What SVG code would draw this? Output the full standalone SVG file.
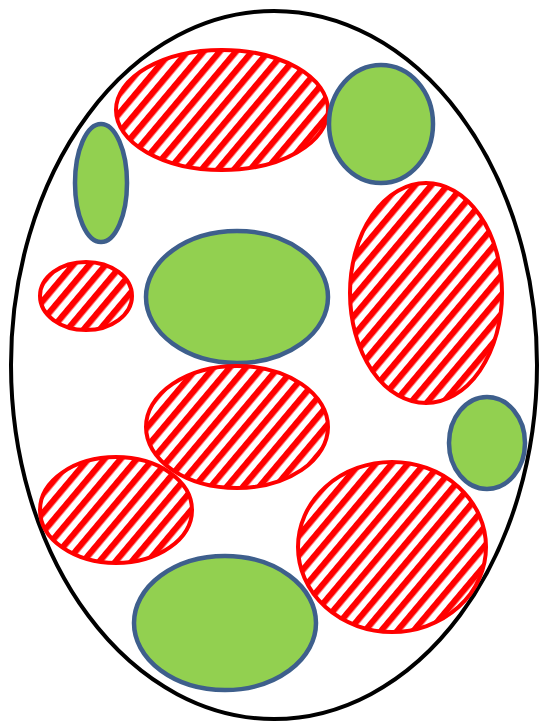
<svg xmlns="http://www.w3.org/2000/svg" width="540" height="722" viewBox="0 0 540 722">
<defs>
<pattern id="hatch" patternUnits="userSpaceOnUse" x="0" y="0" width="12.4" height="12" patternTransform="rotate(40)">
<rect x="0" y="0" width="12.4" height="12" fill="#ffffff"/>
<rect x="0" y="0" width="6.2" height="12" fill="#ff0000"/>
</pattern>
</defs>
<style>
.outer{fill:#ffffff;stroke:#000000;stroke-width:4}
.red{fill:url(#hatch);stroke:#ff0000;stroke-width:4}
.green{fill:#92d050;stroke:#3e5f8c;stroke-width:4.5}
</style>
<rect width="540" height="722" fill="#ffffff"/>
<g id="outer"><ellipse class="outer" cx="274" cy="365" rx="263" ry="354"/></g>
<g id="r1"><ellipse class="red" cx="222" cy="110" rx="106" ry="60"/></g>
<g id="g1"><ellipse class="green" cx="381" cy="124" rx="52" ry="59"/></g>
<g id="g2"><ellipse class="green" cx="101" cy="183" rx="26" ry="59"/></g>
<g id="r2"><ellipse class="red" cx="426" cy="293" rx="76" ry="110"/></g>
<g id="r3"><ellipse class="red" cx="86" cy="296" rx="46" ry="34"/></g>
<g id="g3"><ellipse class="green" cx="237" cy="297" rx="91" ry="66"/></g>
<g id="r4"><ellipse class="red" cx="237" cy="427" rx="91" ry="61"/></g>
<g id="g4"><ellipse class="green" cx="487" cy="443" rx="38" ry="46"/></g>
<g id="r5"><ellipse class="red" cx="116" cy="510" rx="76" ry="53"/></g>
<g id="r6"><ellipse class="red" cx="392" cy="547" rx="94" ry="85"/></g>
<g id="g5"><ellipse class="green" cx="225" cy="623" rx="91" ry="67"/></g>
<g id="connectors"></g>
</svg>
